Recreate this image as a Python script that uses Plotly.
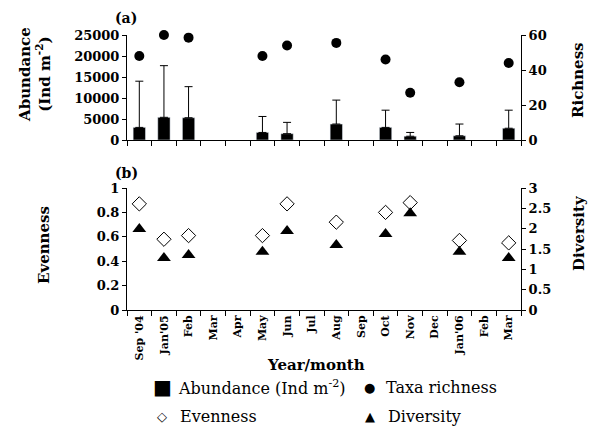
import plotly.graph_objects as go

months = ["Sep '04", "Jan'05", "Feb", "Mar", "Apr", "May", "Jun", "Jul", "Aug",
          "Sep", "Oct", "Nov", "Dec", "Jan'06", "Feb", "Mar"]
sampled_idx = [0, 1, 2, 5, 6, 8, 10, 11, 13, 15]
abundance = [3000, 5400, 5300, 1800, 1500, 3800, 3000, 900, 1000, 2800]
abundance_upper = [14000, 17700, 12700, 5600, 4200, 9500, 7100, 1800, 3800, 7100]
richness = [48, 60, 58.5, 48, 54, 55.5, 46, 27, 33, 44]
evenness = [0.87, 0.58, 0.61, 0.61, 0.87, 0.72, 0.80, 0.88, 0.57, 0.55]
diversity = [1.99, 1.28, 1.35, 1.43, 1.94, 1.60, 1.87, 2.38, 1.43, 1.28]
abund_ticks = [0, 5000, 10000, 15000, 20000, 25000]
rich_ticks = [0, 20, 40, 60]
even_ticks = [0, 0.2, 0.4, 0.6, 0.8, 1]
div_ticks = [0, 0.5, 1, 1.5, 2, 2.5, 3]

abund_err = [u - a for u, a in zip(abundance_upper, abundance)]

# page body has an 8px margin; work in page pixels and convert
OFF = 8
W, H = 597 - 2 * OFF, 430 - OFF
PL, PR, PT, PB = 127, 521, 35, 310   # plot area in page pixels
L = PL - OFF
T = PT - OFF
R = W - (PR - OFF)
B = H - (PB - OFF)
plot_h = PB - PT

def py(p):
    return (PB - p) / plot_h

def px(p):
    return (p - PL) / (PR - PL)

FONT = "DejaVu Serif"
fig = go.Figure()

fig.add_trace(go.Bar(x=sampled_idx, y=abundance, marker_color="black", width=0.5,
                     error_y=dict(type="data", array=abund_err, symmetric=False,
                                  arrayminus=[0] * len(abund_err),
                                  color="black", thickness=1, width=4),
                     xaxis="x", yaxis="y", showlegend=False, name="Abundance"))
fig.add_trace(go.Scatter(x=sampled_idx, y=richness, mode="markers", cliponaxis=False,
                         marker=dict(symbol="circle", size=10, color="black"),
                         xaxis="x", yaxis="y2", showlegend=False, name="Taxa richness"))
fig.add_trace(go.Scatter(x=sampled_idx, y=evenness, mode="markers", cliponaxis=False,
                         marker=dict(symbol="diamond-open", size=11, color="black",
                                     line=dict(width=1)),
                         xaxis="x2", yaxis="y3", showlegend=False, name="Evenness"))
fig.add_trace(go.Scatter(x=sampled_idx, y=diversity, mode="markers", cliponaxis=False,
                         marker=dict(symbol="triangle-up", size=12, color="black"),
                         xaxis="x2", yaxis="y4", showlegend=False, name="Diversity"))

top_dom = [py(140), 1]
bot_dom = [0, py(188)]
tickfont = dict(family=FONT, size=13, color="black")

def xaxis_cfg(show_labels, anchor):
    return dict(domain=[0, 1], anchor=anchor, range=[-0.5, 15.5], showgrid=False,
                zeroline=False, showline=True, linecolor="black", linewidth=1,
                tickmode="array", tickvals=list(range(16)),
                ticktext=["<b>%s</b>" % m for m in months],
                showticklabels=show_labels, ticks="", tickangle=-90,
                minor=dict(tick0=-0.5, dtick=1, ticks="outside", ticklen=5,
                           tickcolor="black", tickwidth=1, showgrid=False),
                tickfont=dict(family=FONT, size=11, color="black"))

def yaxis_cfg(dom, rng, ticks, **kw):
    d = dict(domain=dom, range=rng, tickmode="array", tickvals=ticks,
             ticktext=["<b>%g</b>" % v for v in ticks],
             showgrid=False, zeroline=False, showline=True, linecolor="black",
             ticks="outside", ticklen=4, tickcolor="black", tickfont=tickfont)
    d.update(kw)
    return d

fig.update_layout(
    width=W, height=H, margin=dict(l=L, r=R, t=T, b=B, autoexpand=False),
    paper_bgcolor="white", plot_bgcolor="white",
    font=dict(family=FONT, color="black"),
    xaxis=xaxis_cfg(False, "y"),
    xaxis2=xaxis_cfg(True, "y3"),
    yaxis=yaxis_cfg(top_dom, [0, 25000], abund_ticks, anchor="x"),
    yaxis2=yaxis_cfg(top_dom, [0, 60], rich_ticks, overlaying="y", side="right", anchor="x"),
    yaxis3=yaxis_cfg(bot_dom, [0, 1], even_ticks, anchor="x2"),
    yaxis4=yaxis_cfg(bot_dom, [0, 3], div_ticks, overlaying="y3", side="right", anchor="x2"),
)

def ann(text, x, y, size=14, angle=0, xanchor="center", bold=True):
    fig.add_annotation(text=("<b>%s</b>" % text) if bold else text,
                       x=px(x), y=py(y), xref="paper", yref="paper",
                       showarrow=False, textangle=angle, xanchor=xanchor, yanchor="middle",
                       font=dict(family=FONT, size=size, color="black"))

ann("Abundance<br>(Ind m<sup>-2</sup>)", 35, 75, size=15, angle=-90)
ann("Richness", 578, 80, size=15, angle=-90)
ann("Evenness", 44, 245, size=15, angle=-90)
ann("Diversity", 579, 233, size=15, angle=-90)
ann("(a)", 126, 18, size=14)
ann("(b)", 126, 173, size=14)
ann("Year/month", 316, 365, size=15)

# legend (manual)
ann("■", 162, 387, size=20, bold=False)
ann("Abundance (Ind m<sup>-2</sup>)", 176, 387, size=16, xanchor="left", bold=False)
ann("●", 369, 387, size=13, bold=False)
ann("Taxa richness", 384, 387, size=16, xanchor="left", bold=False)
ann("◇", 162, 416, size=13, bold=False)
ann("Evenness", 178, 416, size=16, xanchor="left", bold=False)
ann("▲", 370, 416, size=13, bold=False)
ann("Diversity", 386, 416, size=16, xanchor="left", bold=False)

fig.write_html("out.html")
